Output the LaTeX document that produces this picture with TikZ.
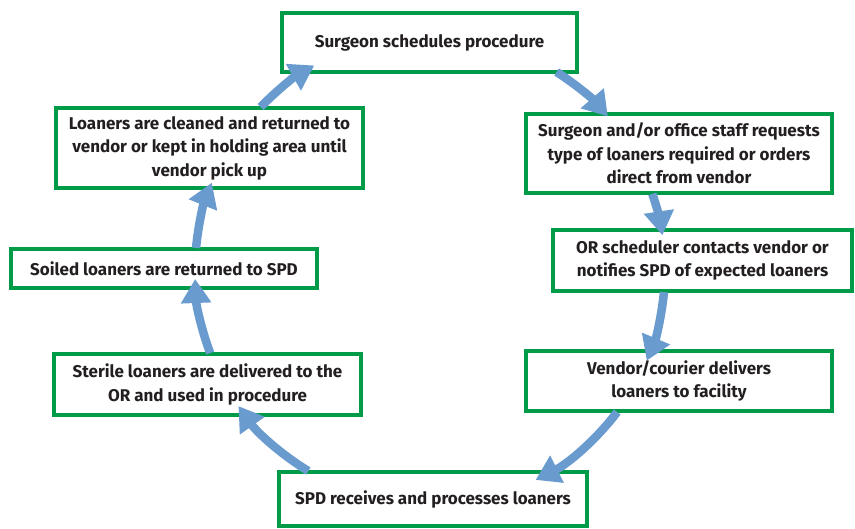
\documentclass[tikz,border=0pt]{standalone}
\usepackage{fontspec}
\setmainfont{Fira Sans}
\usetikzlibrary{arrows.meta}
\definecolor{boxgreen}{RGB}{0,155,72}
\definecolor{flowblue}{RGB}{105,155,207}
\definecolor{txt}{RGB}{35,31,32}
\tikzset{
  stepbox/.style={draw=boxgreen, line width=3.6pt, fill=white, inner sep=0pt,
    align=center, text=txt, font=\fontsize{17}{23.5}\selectfont\bfseries},
  flow/.style={draw=flowblue, line width=8.5pt, -{Triangle[width=29pt,length=24pt]}, fill=flowblue}
}
\begin{document}
\begin{tikzpicture}[x=1pt,y=1pt]
\useasboundingbox (0,0) rectangle (855,529);
\coordinate (C) at (430,259);
% boxes
\node[stepbox, minimum width=295pt, minimum height=59pt] (b1) at (429.5,486.5) {Surgeon schedules procedure};
\node[stepbox, minimum width=306pt, minimum height=79pt] (b2) at (679,375.5) {Surgeon and/or office staff requests\\type of loaners required or orders\\direct from vendor};
\node[stepbox, minimum width=299pt, minimum height=61pt] (b3) at (702.5,268.5) {OR scheduler contacts vendor or\\notifies SPD of expected loaners};
\node[stepbox, minimum width=306pt, minimum height=60pt] (b4) at (679,148) {Vendor/courier delivers\\loaners to facility};
\node[stepbox, minimum width=308pt, minimum height=54pt] (b5) at (433,30) {SPD receives and processes loaners};
\node[stepbox, minimum width=307pt, minimum height=61pt] (b6) at (207.5,144.5) {Sterile loaners are delivered to the\\OR and used in procedure};
\node[stepbox, minimum width=306pt, minimum height=39pt] (b7) at (164,260.5) {Soiled loaners are returned to SPD};
\node[stepbox, minimum width=307pt, minimum height=80pt] (b8) at (209.5,381) {Loaners are cleaned and returned to\\vendor or kept in holding area until\\vendor pick up};
% arrow start points on the cycle circle
\coordinate (s1) at ([shift={(57.4:235)}]C);
\coordinate (s2) at ([shift={(18.9:235)}]C);
\coordinate (s3) at ([shift={(-5.4:235)}]C);
\coordinate (s4) at ([shift={(-37.2:235)}]C);
\coordinate (s5) at ([shift={(-121.2:235)}]C);
\coordinate (s6) at ([shift={(-159.3:235)}]C);
\coordinate (s7) at ([shift={(174.6:235)}]C);
\coordinate (s8) at ([shift={(136.1:235)}]C);
% arrows
\draw[flow] (s1) arc[start angle=57.4, end angle=40.8, radius=235];
\draw[flow] (s2) arc[start angle=18.9, end angle=8.5, radius=235];
\draw[flow] (s3) arc[start angle=-5.4, end angle=-22.7, radius=235];
\draw[flow] (s4) arc[start angle=-37.2, end angle=-63.3, radius=235];
\draw[flow] (s5) arc[start angle=-121.2, end angle=-144.6, radius=235];
\draw[flow] (s6) arc[start angle=-159.3, end angle=-177.8, radius=235];
\draw[flow] (s7) arc[start angle=174.6, end angle=158.2, radius=235];
\draw[flow] (s8) arc[start angle=136.1, end angle=119.5, radius=235];
\end{tikzpicture}
\end{document}
